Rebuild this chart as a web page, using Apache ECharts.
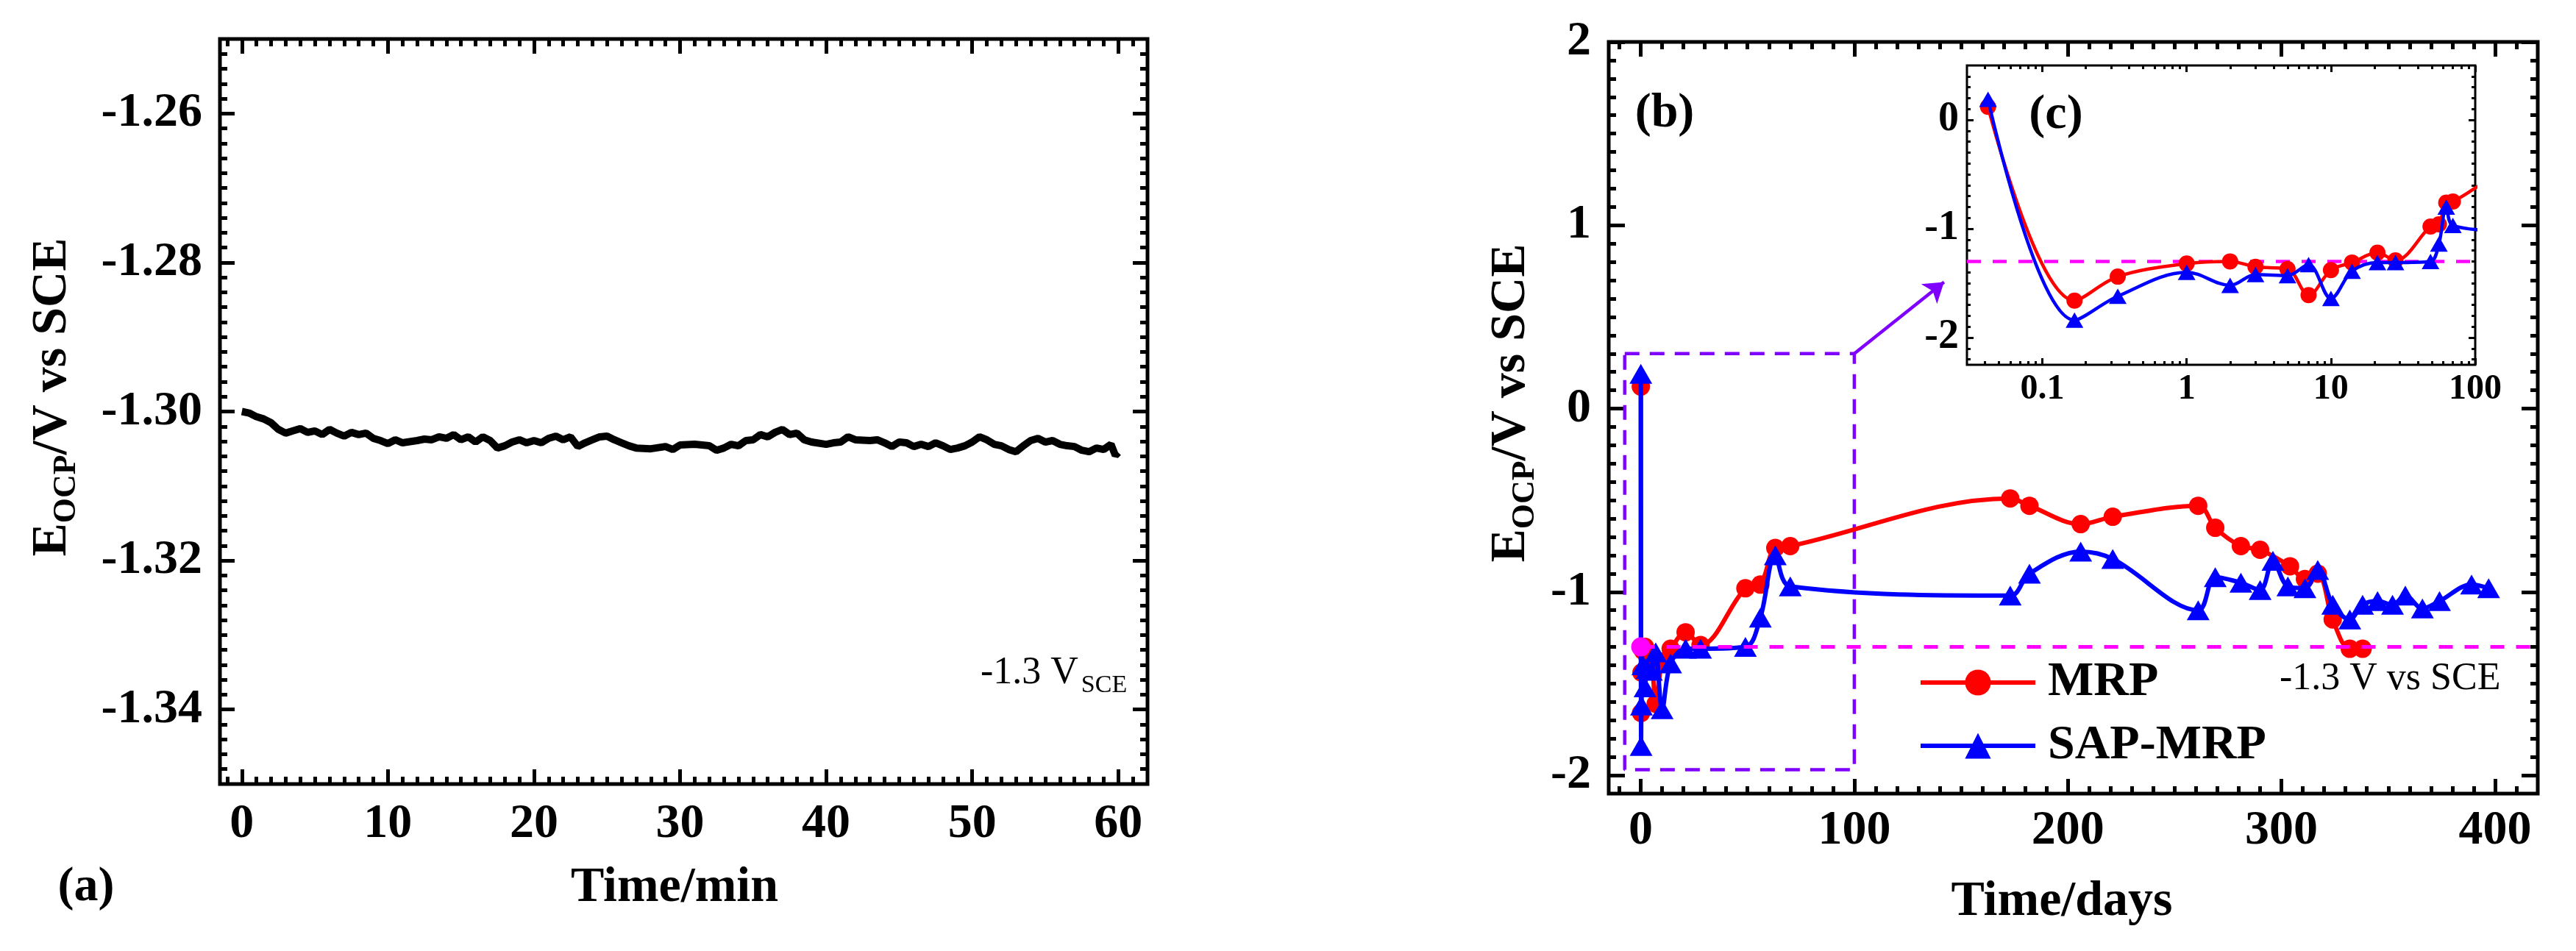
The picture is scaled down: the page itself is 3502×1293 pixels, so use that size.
<!DOCTYPE html>
<html>
<head>
<meta charset="utf-8">
<title>EOCP</title>
<script src="https://cdn.jsdelivr.net/npm/echarts@6.0.0/dist/echarts.min.js"></script>
<style>
  html, body { margin: 0; padding: 0; background: #fff; }
  #chart { width: 3502px; height: 1293px; }
</style>
</head>
<body>
<div id="chart"></div>
<script>
// (a) OCP during the first hour
const timeMin = [0, 0.5, 1, 1.5, 2, 2.5, 3, 3.5, 4, 4.5, 5, 5.5, 6, 6.5, 7, 7.5, 8, 8.5, 9, 9.5,
  10, 10.5, 11, 12, 12.5, 13, 13.5, 14, 14.5, 15, 15.5, 16, 16.5, 17, 17.5, 18, 18.5, 19, 19.5,
  20, 20.5, 21, 21.5, 22, 22.5, 23, 23.5, 24, 24.5, 25, 25.5, 26, 26.5, 27, 28, 29, 29.5,
  30, 31, 32, 32.5, 33, 33.5, 34, 34.5, 35, 35.5, 36, 36.5, 37, 37.5, 38, 38.5, 39,
  40, 40.5, 41, 41.5, 42, 43, 43.5, 44, 44.5, 45, 45.5, 46, 46.5, 47, 47.5, 48, 48.5, 49, 49.5,
  50, 50.5, 51, 51.5, 52, 52.5, 53, 53.5, 54, 54.5, 55, 55.5, 56, 56.5, 57, 57.5, 58, 58.5, 59, 59.5, 59.8, 60];
const ocpMin = [-1.3000, -1.3002, -1.3007, -1.3010, -1.3015, -1.3024, -1.3029, -1.3026, -1.3023, -1.3028,
  -1.3026, -1.3031, -1.3024, -1.3029, -1.3033, -1.3028, -1.3031, -1.3029, -1.3036, -1.3039,
  -1.3043, -1.3038, -1.3042, -1.3039, -1.3037, -1.3038, -1.3034, -1.3036, -1.3031, -1.3038, -1.3034,
  -1.3041, -1.3034, -1.3039, -1.3049, -1.3046, -1.3041, -1.3038, -1.3042,
  -1.3039, -1.3042, -1.3036, -1.3033, -1.3038, -1.3034, -1.3047, -1.3042, -1.3038, -1.3034, -1.3033,
  -1.3038, -1.3042, -1.3046, -1.3049, -1.3050, -1.3047, -1.3051,
  -1.3045, -1.3044, -1.3046, -1.3052, -1.3049, -1.3044, -1.3046, -1.3039, -1.3038, -1.3031, -1.3034,
  -1.3028, -1.3024, -1.3031, -1.3029, -1.3038, -1.3041,
  -1.3044, -1.3042, -1.3041, -1.3034, -1.3038, -1.3039, -1.3038, -1.3042, -1.3047, -1.3041, -1.3042,
  -1.3047, -1.3044, -1.3047, -1.3042, -1.3046, -1.3051, -1.3049, -1.3046,
  -1.3041, -1.3034, -1.3038, -1.3044, -1.3046, -1.3051, -1.3054, -1.3046, -1.3039, -1.3036, -1.3041,
  -1.3039, -1.3044, -1.3046, -1.3047, -1.3052, -1.3054, -1.3049, -1.3051, -1.3044, -1.3059, -1.3055];

// (b)/(c) OCP over the immersion period
const mrpDays = [0.042, 0.167, 0.333, 1, 2, 3, 5, 7, 10, 14, 21, 28, 49, 56, 63, 70,
  173, 182, 206, 221, 261, 269, 281, 290, 304, 311, 317, 324, 332, 338];
const mrpE = [0.12, -1.66, -1.44, -1.32, -1.30, -1.35, -1.37, -1.61, -1.38, -1.31, -1.22, -1.29, -0.98, -0.96, -0.76, -0.75,
  -0.49, -0.53, -0.63, -0.59, -0.53, -0.65, -0.75, -0.77, -0.86, -0.93, -0.90, -1.15, -1.31, -1.31];

const sapDays = [0.042, 0.167, 0.333, 1, 2, 3, 5, 7, 10, 14, 21, 28, 49, 56, 63, 70,
  173, 182, 206, 221, 261, 269, 281, 290, 296, 303, 311, 317, 324, 332, 338, 345, 352, 358, 366, 374, 389, 397];
const sapE = [0.19, -1.84, -1.62, -1.40, -1.52, -1.42, -1.43, -1.33, -1.64, -1.39, -1.31, -1.31, -1.30, -1.14, -0.80, -0.97,
  -1.02, -0.90, -0.78, -0.82, -1.10, -0.92, -0.95, -0.99, -0.83, -0.97, -0.98, -0.88, -1.07, -1.15, -1.07, -1.05, -1.07, -1.02, -1.09, -1.05, -0.96, -0.98];

const initDay = [0];
const initE = [-1.3];
const refE = -1.3;

// tick labels
const leftXTicks = [0, 10, 20, 30, 40, 50, 60];
const leftYTicks = [-1.34, -1.32, -1.30, -1.28, -1.26];
const mainXTicks = [0, 100, 200, 300, 400];
const mainYTicks = [-2, -1, 0, 1, 2];
const insetXTicks = [0.1, 1, 10, 100];
const insetYTicks = [-2, -1, 0];

// zoomed region marked in (b)
const zoomBox = { x0: -7.5, x1: 100, y0: -1.97, y1: 0.3 };
const arrowTip = [142, 0.69];

const FONT = '"Liberation Serif", "Times New Roman", serif';
const RED = '#ff0000', BLUE = '#0000ff', MAGENTA = '#ff00ff', PURPLE = '#8000ff';

function pairs(xs, ys) {
  return xs.map((x, i) => [x, ys[i]]);
}

// minor tick positions between the labelled ones
function minorTicks(min, max, step, majors) {
  const out = [];
  const start = Math.ceil(min / step - 1e-9);
  for (let k = start; k * step < max - 1e-9; k++) {
    const v = +(k * step).toFixed(6);
    if (v <= min + 1e-9) continue;
    if (majors.some(m => Math.abs(m - v) < step / 10)) continue;
    out.push(v);
  }
  return out;
}

function logMinorTicks(min, max) {
  const out = [];
  for (let d = 0.01; d < max; d *= 10) {
    for (let k = 2; k <= 9; k++) {
      const v = +(k * d).toPrecision(6);
      if (v > min && v < max) out.push(v);
    }
  }
  return out;
}

// four axes per dimension: labelled + minor on one side, mirror ticks on the other
function frameAxes(dim, g, type, min, max, majors, minors, majorLen, minorLen, w, label) {
  const posA = dim === 'x' ? 'bottom' : 'left';
  const posB = dim === 'x' ? 'top' : 'right';
  const base = { type: type, gridIndex: g, min: min, max: max,
    axisLine: { show: false, onZero: false }, splitLine: { show: false } };
  if (type === 'log') base.logBase = 10;
  const mk = (pos, ticks, len, lab) => Object.assign({}, base, {
    position: pos,
    axisTick: { show: true, inside: true, length: len, lineStyle: { color: '#000', width: w }, customValues: ticks },
    axisLabel: lab ? Object.assign({ show: true, customValues: ticks }, lab) : { show: false }
  });
  return [mk(posA, majors, majorLen, label), mk(posA, minors, minorLen), mk(posB, majors, majorLen), mk(posB, minors, minorLen)];
}

const bigLabel = { fontFamily: FONT, fontWeight: 'bold', fontSize: 66, color: '#000' };

const xAxes = [].concat(
  frameAxes('x', 0, 'value', -1.5, 62, leftXTicks, minorTicks(-1.5, 62, 1, leftXTicks), 20, 10, 5,
    Object.assign({ margin: 22 }, bigLabel)),
  frameAxes('x', 1, 'value', -15, 420, mainXTicks, minorTicks(-15, 420, 10, mainXTicks), 20, 10, 5,
    Object.assign({ margin: 18 }, bigLabel)),
  frameAxes('x', 2, 'log', 0.03, 100, insetXTicks, logMinorTicks(0.03, 100), 9, 5, 3,
    { fontFamily: FONT, fontWeight: 'bold', fontSize: 48, color: '#000', margin: 10,
      formatter: v => String(+(+v).toPrecision(6)) })
);

const yAxes = [].concat(
  frameAxes('y', 0, 'value', -1.35, -1.25, leftYTicks, minorTicks(-1.35, -1.25, 0.002, leftYTicks), 20, 10, 5,
    Object.assign({ margin: 24, formatter: v => (+v).toFixed(2) }, bigLabel)),
  frameAxes('y', 1, 'value', -2.1, 2, mainYTicks, minorTicks(-2.1, 2, 0.1, mainYTicks), 22, 10, 5,
    Object.assign({ margin: 24 }, bigLabel)),
  frameAxes('y', 2, 'value', -2.25, 0.5, insetYTicks, minorTicks(-2.25, 0.5, 0.1, insetYTicks), 9, 5, 3,
    { fontFamily: FONT, fontWeight: 'bold', fontSize: 56, color: '#000', margin: 11 })
);

const chart = echarts.init(document.getElementById('chart'), null, { renderer: 'canvas' });

const titleRich = {
  b: { fontFamily: FONT, fontWeight: 'bold', fontSize: 68, fill: '#000' },
  s: { fontFamily: FONT, fontWeight: 'bold', fontSize: 44, fill: '#000', verticalAlign: 'bottom', padding: [0, 0, -8, 0] }
};

function textEl(x, y, text, size, extra) {
  return Object.assign({
    type: 'text', x: x, y: y, z: 100, silent: true,
    style: { text: text, fontFamily: FONT, fontWeight: 'bold', fontSize: size, fill: '#000',
      textAlign: 'center', textVerticalAlign: 'middle' }
  }, extra || {});
}

chart.setOption({
  animation: false,
  grid: [
    { left: 299, top: 53, width: 1261, height: 1013, show: true, borderColor: '#000', borderWidth: 5 },
    { left: 2187, top: 57, width: 1263, height: 1022, show: true, borderColor: '#000', borderWidth: 5 },
    { left: 2674, top: 89, width: 691, height: 407, show: true, borderColor: '#000', borderWidth: 3,
      backgroundColor: '#fff' }
  ],
  xAxis: xAxes,
  yAxis: yAxes,
  legend: {
    data: ['MRP', 'SAP-MRP'],
    orient: 'vertical',
    left: 2603, top: 890,
    itemWidth: 156, itemHeight: 44, itemGap: 20,
    selectedMode: false,
    lineStyle: { width: 6 },
    textStyle: { fontFamily: FONT, fontWeight: 'bold', fontSize: 66, color: '#000', padding: [0, 0, 0, 12] }
  },
  series: [
    { name: 'OCP', type: 'line', xAxisIndex: 0, yAxisIndex: 0, data: pairs(timeMin, ocpMin),
      showSymbol: false, lineStyle: { color: '#000', width: 10 }, z: 3 },

    { name: 'zoom', type: 'line', xAxisIndex: 4, yAxisIndex: 4, silent: true, symbol: 'none',
      data: [[zoomBox.x0, zoomBox.y1], [zoomBox.x1, zoomBox.y1], [zoomBox.x1, zoomBox.y0],
             [zoomBox.x0, zoomBox.y0], [zoomBox.x0, zoomBox.y1]],
      lineStyle: { color: PURPLE, width: 4.5, type: [20, 14] }, z: 1,
      markLine: { silent: true, symbol: ['none', 'arrow'], symbolSize: 26, label: { show: false },
        lineStyle: { color: PURPLE, width: 4.5, type: 'solid' },
        data: [[{ coord: [zoomBox.x1, zoomBox.y1] }, { coord: arrowTip }]] } },

    { name: 'MRP', type: 'line', xAxisIndex: 4, yAxisIndex: 4, data: pairs(mrpDays, mrpE),
      smooth: 0.35, symbol: 'circle', symbolSize: 25, color: RED,
      lineStyle: { color: RED, width: 6 }, itemStyle: { color: RED }, z: 3 },
    { name: 'SAP-MRP', type: 'line', xAxisIndex: 4, yAxisIndex: 4, data: pairs(sapDays, sapE),
      smooth: 0.35, symbol: 'triangle', symbolSize: [31, 27], color: BLUE,
      lineStyle: { color: BLUE, width: 6 }, itemStyle: { color: BLUE }, z: 4 },
    { name: 'initial', type: 'line', xAxisIndex: 4, yAxisIndex: 4, data: pairs(initDay, initE),
      symbol: 'circle', symbolSize: 26, itemStyle: { color: MAGENTA }, lineStyle: { width: 0 }, z: 5,
      markLine: { silent: true, symbol: 'none', label: { show: false },
        lineStyle: { color: MAGENTA, width: 5, type: [19, 16] },
        data: [[{ coord: [0, refE] }, { coord: [420, refE] }]] } },

    { name: 'MRP', type: 'line', xAxisIndex: 8, yAxisIndex: 8, data: pairs(mrpDays, mrpE),
      smooth: 0.35, symbol: 'circle', symbolSize: 22, color: RED,
      lineStyle: { color: RED, width: 4.5 }, itemStyle: { color: RED }, z: 6,
      markLine: { silent: true, symbol: 'none', label: { show: false },
        lineStyle: { color: MAGENTA, width: 4.5, type: [19, 16] },
        data: [{ yAxis: refE }] } },
    { name: 'SAP-MRP', type: 'line', xAxisIndex: 8, yAxisIndex: 8, data: pairs(sapDays, sapE),
      smooth: 0.35, symbol: 'triangle', symbolSize: [24, 21], color: BLUE,
      lineStyle: { color: BLUE, width: 4.5 }, itemStyle: { color: BLUE }, z: 7 }
  ],
  graphic: [
    textEl(71, 540, '', 68, { rotation: Math.PI / 2,
      style: { text: '{b|E}{s|OCP}{b|/V vs SCE}', rich: titleRich, textAlign: 'center', textVerticalAlign: 'middle' } }),
    textEl(2054, 548, '', 68, { rotation: Math.PI / 2,
      style: { text: '{b|E}{s|OCP}{b|/V vs SCE}', rich: titleRich, textAlign: 'center', textVerticalAlign: 'middle' } }),
    textEl(917, 1207, 'Time/min', 68),
    textEl(2803, 1226, 'Time/days', 68),
    textEl(117, 1207, '(a)', 66),
    textEl(2263, 155, '(b)', 66),
    textEl(2795, 157, '(c)', 66),
    { type: 'text', x: 1333, y: 915, z: 100, silent: true,
      style: { text: '{m|-1.3 V}{s|SCE}', textAlign: 'left', textVerticalAlign: 'middle',
        rich: { m: { fontFamily: FONT, fontSize: 52, fill: '#000' },
                s: { fontFamily: FONT, fontSize: 34, fill: '#000', verticalAlign: 'bottom', padding: [0, 0, -8, 4] } } } },
    { type: 'text', x: 3099, y: 923, z: 100, silent: true,
      style: { text: '-1.3 V vs SCE', fontFamily: FONT, fontSize: 52, fill: '#000',
        textAlign: 'left', textVerticalAlign: 'middle' } }
  ]
});
</script>
</body>
</html>
